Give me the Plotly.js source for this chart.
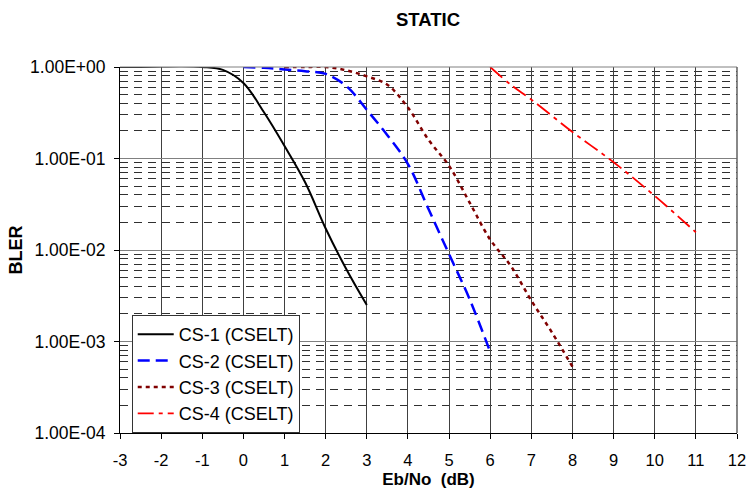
<!DOCTYPE html>
<html>
<head>
<meta charset="utf-8">
<script src="https://cdn.plot.ly/plotly-3.0.1.min.js"></script>
<style>
html, body { margin: 0; padding: 0; background: #fff; }
#chart { width: 747px; height: 489px; }
</style>
</head>
<body>
<div id="chart"></div>
<script>
// ---- data ----
const cs1X = [-3, -2.5, -2, -1.5, -1, -0.5, 0, 0.5, 1, 1.5, 2, 2.5, 3];
const cs1Y = [1.0, 1.0, 1.01, 1.02, 1.0, 0.93, 0.67, 0.32, 0.137, 0.055, 0.0172, 0.0062, 0.0025];

const cs2X = [0, 0.5, 1, 1.5, 2, 2.5, 3, 3.5, 4, 4.5, 5, 5.5, 6];
const cs2Y = [1.0, 0.98, 0.94, 0.90, 0.84, 0.62, 0.34, 0.18, 0.087, 0.028, 0.009, 0.0029, 0.00077];

const cs3X = [1, 1.5, 2, 2.5, 3, 3.5, 4, 4.5, 5, 5.5, 6, 6.5, 7, 7.5, 8];
const cs3Y = [1.0, 1.0, 1.0, 0.92, 0.79, 0.64, 0.36, 0.16, 0.083, 0.033, 0.013, 0.0067, 0.0028, 0.00126, 0.00053];

const cs4X = [6, 6.5, 7, 8, 9, 10, 11];
const cs4Y = [1.0, 0.64, 0.44, 0.195, 0.091, 0.039, 0.0156];

const seriesNames = ["CS-1 (CSELT)", "CS-2 (CSELT)", "CS-3 (CSELT)", "CS-4 (CSELT)"];

const yTickVals = [1e-4, 1e-3, 1e-2, 1e-1, 1];
const yTickText = ["1.00E-04", "1.00E-03", "1.00E-02", "1.00E-01", "1.00E+00"];

const xTickVals = [-3, -2, -1, 0, 1, 2, 3, 4, 5, 6, 7, 8, 9, 10, 11, 12];
const xTickText = ["-3", "-2", "-1", "0", "1", "2", "3", "4", "5", "6", "7", "8", "9", "10", "11", "12"];

const FONT = "Liberation Sans, Arial, sans-serif";

const traces = [
  { x: cs1X, y: cs1Y, name: seriesNames[0], mode: "lines",
    line: { color: "#000000", width: 2, shape: "spline" } },
  { x: cs2X, y: cs2Y, name: seriesNames[1], mode: "lines",
    line: { color: "#0000ff", width: 2.5, dash: "12px,6px", shape: "spline" } },
  { x: cs3X, y: cs3Y, name: seriesNames[2], mode: "lines",
    line: { color: "#800000", width: 2.5, dash: "4px,4px", shape: "spline" } },
  { x: cs4X, y: cs4Y, name: seriesNames[3], mode: "lines",
    line: { color: "#ff0000", width: 1.8, dash: "16px,5px,4px,5px", shape: "spline" } }
];

const layout = {
  width: 747, height: 489,
  margin: { l: 120, r: 10, t: 67, b: 56 },
  paper_bgcolor: "#ffffff", plot_bgcolor: "#ffffff",
  font: { family: FONT, size: 17, color: "#000" },
  title: { text: "<b>STATIC</b>", x: 0.573, xanchor: "center", y: 0.96, yanchor: "middle",
           font: { family: FONT, size: 18.5, color: "#000" } },
  showlegend: true,
  legend: {
    x: 0.019, xanchor: "left", y: 0, yanchor: "bottom",
    bgcolor: "#ffffff", bordercolor: "#333333", borderwidth: 1,
    font: { family: FONT, size: 18, color: "#000" },
    itemwidth: 36, tracegroupgap: 0
  },
  xaxis: {
    range: [-3, 12], tickmode: "array", tickvals: xTickVals, ticktext: xTickText,
    showline: true, linecolor: "#000", linewidth: 1,
    ticks: "outside", ticklen: 5, tickcolor: "#000", ticklabelstandoff: 7,
    showgrid: true, gridcolor: "#404040", gridwidth: 1, zeroline: false,
    tickfont: { family: FONT, size: 16.5, color: "#000" },
    title: { text: "<b>Eb/No\u00a0\u00a0(dB)</b>", standoff: 6, font: { family: FONT, size: 17, color: "#000" } }
  },
  yaxis: {
    type: "log", range: [-4, 0],
    tickmode: "array", tickvals: yTickVals, ticktext: yTickText,
    showline: true, linecolor: "#000", linewidth: 1,
    ticks: "outside", ticklen: 5, tickcolor: "#000", ticklabelstandoff: 5,
    showgrid: true, gridcolor: "#808080", gridwidth: 1, zeroline: false,
    tickfont: { family: FONT, size: 17.5, color: "#000" },
    minor: { dtick: "D1", showgrid: true, gridcolor: "#303030", gridwidth: 1, griddash: "8px,6px", ticks: "" },
    title: { text: "<b>BLER</b>", standoff: 2, font: { family: FONT, size: 18, color: "#000" } }
  },
  shapes: [
    { type: "line", xref: "paper", yref: "paper", x0: 0, x1: 1, y0: 1, y1: 1, line: { color: "#808080", width: 1 } },
    { type: "line", xref: "paper", yref: "paper", x0: 1, x1: 1, y0: 0, y1: 1, line: { color: "#606060", width: 1.5 } }
  ]
};

Plotly.newPlot("chart", traces, layout, { displayModeBar: false, staticPlot: true });
</script>
</body>
</html>
